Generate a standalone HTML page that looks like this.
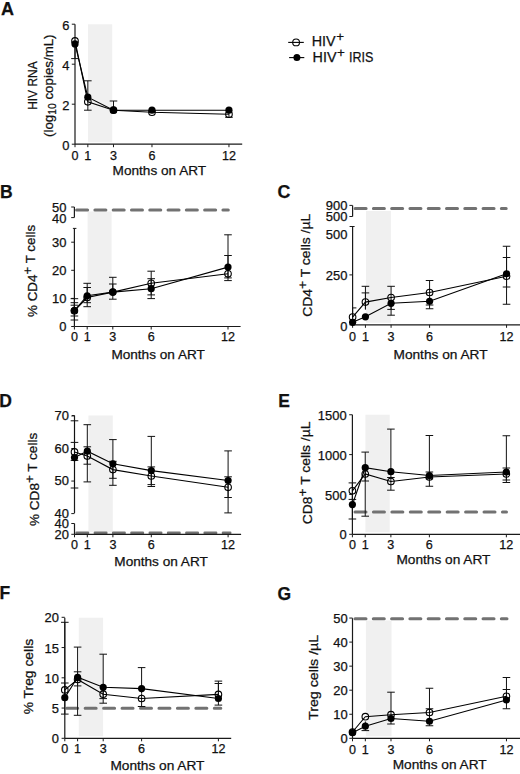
<!DOCTYPE html>
<html><head><meta charset="utf-8"><title>Figure</title>
<style>html,body{margin:0;padding:0;background:#fff;width:520px;height:774px;overflow:hidden}svg{display:block;font-family:"Liberation Sans",sans-serif}text{stroke:#111;stroke-width:0.25px}</style>
</head><body>
<svg width="520" height="774" viewBox="0 0 520 774" font-family='"Liberation Sans", sans-serif' fill="#111">
<rect width="520" height="774" fill="#fff"/>
<rect x="88.00" y="24.30" width="24.20" height="117.90" fill="#f0f0f0"/>
<line x1="75.00" y1="24.30" x2="75.00" y2="144.20" stroke="#1a1a1a" stroke-width="1.2" />
<line x1="71.80" y1="144.20" x2="75.00" y2="144.20" stroke="#1a1a1a" stroke-width="1.0" />
<text x="69.40" y="150.20" font-size="12" text-anchor="end" font-weight="normal" textLength="7.2" lengthAdjust="spacingAndGlyphs" >0</text>
<line x1="71.80" y1="104.20" x2="75.00" y2="104.20" stroke="#1a1a1a" stroke-width="1.0" />
<text x="69.40" y="110.20" font-size="12" text-anchor="end" font-weight="normal" textLength="7.2" lengthAdjust="spacingAndGlyphs" >2</text>
<line x1="71.80" y1="64.20" x2="75.00" y2="64.20" stroke="#1a1a1a" stroke-width="1.0" />
<text x="69.40" y="70.20" font-size="12" text-anchor="end" font-weight="normal" textLength="7.2" lengthAdjust="spacingAndGlyphs" >4</text>
<line x1="71.80" y1="24.20" x2="75.00" y2="24.20" stroke="#1a1a1a" stroke-width="1.0" />
<text x="69.40" y="30.20" font-size="12" text-anchor="end" font-weight="normal" textLength="7.2" lengthAdjust="spacingAndGlyphs" >6</text>
<line x1="75.00" y1="144.20" x2="242.20" y2="144.20" stroke="#1a1a1a" stroke-width="1.2" />
<line x1="75.00" y1="144.20" x2="75.00" y2="147.20" stroke="#1a1a1a" stroke-width="1.0" />
<text x="75.00" y="159.60" font-size="12" text-anchor="middle" font-weight="normal" textLength="7.0" lengthAdjust="spacingAndGlyphs" >0</text>
<line x1="87.83" y1="144.20" x2="87.83" y2="147.20" stroke="#1a1a1a" stroke-width="1.0" />
<text x="87.83" y="159.60" font-size="12" text-anchor="middle" font-weight="normal" textLength="7.0" lengthAdjust="spacingAndGlyphs" >1</text>
<line x1="113.49" y1="144.20" x2="113.49" y2="147.20" stroke="#1a1a1a" stroke-width="1.0" />
<text x="113.49" y="159.60" font-size="12" text-anchor="middle" font-weight="normal" textLength="7.0" lengthAdjust="spacingAndGlyphs" >3</text>
<line x1="151.98" y1="144.20" x2="151.98" y2="147.20" stroke="#1a1a1a" stroke-width="1.0" />
<text x="151.98" y="159.60" font-size="12" text-anchor="middle" font-weight="normal" textLength="7.0" lengthAdjust="spacingAndGlyphs" >6</text>
<line x1="228.96" y1="144.20" x2="228.96" y2="147.20" stroke="#1a1a1a" stroke-width="1.0" />
<text x="228.96" y="159.60" font-size="12" text-anchor="middle" font-weight="normal" textLength="14.0" lengthAdjust="spacingAndGlyphs" >12</text>
<text x="112.60" y="175.30" font-size="13" text-anchor="start" font-weight="normal" textLength="93.5" lengthAdjust="spacingAndGlyphs" >Months on ART</text>
<line x1="75.00" y1="42.40" x2="75.00" y2="58.60" stroke="#111" stroke-width="1.0" />
<line x1="71.20" y1="58.60" x2="78.80" y2="58.60" stroke="#111" stroke-width="1.0" />
<line x1="87.83" y1="99.50" x2="87.83" y2="80.80" stroke="#111" stroke-width="1.0" />
<line x1="84.03" y1="80.80" x2="91.63" y2="80.80" stroke="#111" stroke-width="1.0" />
<line x1="87.83" y1="99.50" x2="87.83" y2="110.20" stroke="#111" stroke-width="1.0" />
<line x1="84.03" y1="110.20" x2="91.63" y2="110.20" stroke="#111" stroke-width="1.0" />
<line x1="113.49" y1="110.20" x2="113.49" y2="101.00" stroke="#111" stroke-width="1.0" />
<line x1="109.69" y1="101.00" x2="117.29" y2="101.00" stroke="#111" stroke-width="1.0" />
<line x1="228.96" y1="112.20" x2="228.96" y2="117.30" stroke="#111" stroke-width="1.0" />
<line x1="225.16" y1="117.30" x2="232.76" y2="117.30" stroke="#111" stroke-width="1.0" />
<polyline points="75.00,40.90 87.83,101.80 113.49,110.20 151.98,112.20 228.96,114.20" fill="none" stroke="#000" stroke-width="1.1"/>
<polyline points="75.00,43.90 87.83,97.20 113.49,110.20 151.98,110.20 228.96,110.20" fill="none" stroke="#000" stroke-width="1.1"/>
<circle cx="75.00" cy="40.90" r="3.3" fill="none" stroke="#000" stroke-width="1.1"/>
<circle cx="87.83" cy="101.80" r="3.3" fill="none" stroke="#000" stroke-width="1.1"/>
<circle cx="113.49" cy="110.20" r="3.3" fill="none" stroke="#000" stroke-width="1.1"/>
<circle cx="151.98" cy="112.20" r="3.3" fill="none" stroke="#000" stroke-width="1.1"/>
<circle cx="228.96" cy="114.20" r="3.3" fill="none" stroke="#000" stroke-width="1.1"/>
<circle cx="75.00" cy="43.90" r="3.6" fill="#000"/>
<circle cx="87.83" cy="97.20" r="3.6" fill="#000"/>
<circle cx="113.49" cy="110.20" r="3.6" fill="#000"/>
<circle cx="151.98" cy="110.20" r="3.6" fill="#000"/>
<circle cx="228.96" cy="110.20" r="3.6" fill="#000"/>
<text transform="translate(36.50,85.60) rotate(-90)" x="0" y="0" font-size="13.5" text-anchor="middle" textLength="48.5" lengthAdjust="spacingAndGlyphs">HIV RNA</text>
<text transform="translate(53.3,85.7) rotate(-90)" font-size="13.5" text-anchor="middle" textLength="102.5" lengthAdjust="spacingAndGlyphs">(log<tspan font-size="10.5" dy="2.6">10</tspan><tspan dy="-2.6"> copies/mL)</tspan></text>
<text x="1.00" y="14.60" font-size="18" text-anchor="start" font-weight="bold" >A</text>
<line x1="288.20" y1="42.40" x2="303.80" y2="42.40" stroke="#000" stroke-width="1.1" />
<circle cx="296.1" cy="42.4" r="3.4" fill="none" stroke="#000" stroke-width="1.1"/>
<line x1="289.10" y1="57.60" x2="304.30" y2="57.60" stroke="#000" stroke-width="1.1" />
<circle cx="296.9" cy="57.6" r="3.5" fill="#000"/>
<text x="311.7" y="45.8" font-size="14.7" textLength="23.9" lengthAdjust="spacingAndGlyphs">HIV</text>
<text x="336.3" y="40.95" font-size="13.4">+</text>
<text x="312.6" y="61.9" font-size="14.7" textLength="23.9" lengthAdjust="spacingAndGlyphs">HIV</text>
<text x="337.1" y="57.25" font-size="13.4">+</text>
<text x="349.0" y="61.9" font-size="14.7" textLength="24.4" lengthAdjust="spacingAndGlyphs">IRIS</text>
<rect x="87.60" y="211.50" width="24.00" height="113.00" fill="#f0f0f0"/>
<line x1="74.40" y1="207.00" x2="74.40" y2="217.60" stroke="#1a1a1a" stroke-width="1.2" />
<line x1="74.40" y1="228.40" x2="74.40" y2="326.50" stroke="#1a1a1a" stroke-width="1.2" />
<line x1="72.90" y1="228.40" x2="76.40" y2="228.40" stroke="#1a1a1a" stroke-width="1.0" />
<line x1="71.20" y1="207.00" x2="74.40" y2="207.00" stroke="#1a1a1a" stroke-width="1.0" />
<text x="66.40" y="212.10" font-size="12" text-anchor="end" font-weight="normal" textLength="14.4" lengthAdjust="spacingAndGlyphs" >50</text>
<line x1="71.20" y1="217.60" x2="74.40" y2="217.60" stroke="#1a1a1a" stroke-width="1.0" />
<text x="66.40" y="222.70" font-size="12" text-anchor="end" font-weight="normal" textLength="14.4" lengthAdjust="spacingAndGlyphs" >40</text>
<line x1="71.20" y1="326.50" x2="74.40" y2="326.50" stroke="#1a1a1a" stroke-width="1.0" />
<text x="66.40" y="330.80" font-size="12" text-anchor="end" font-weight="normal" textLength="7.2" lengthAdjust="spacingAndGlyphs" >0</text>
<line x1="71.20" y1="298.40" x2="74.40" y2="298.40" stroke="#1a1a1a" stroke-width="1.0" />
<text x="66.40" y="302.70" font-size="12" text-anchor="end" font-weight="normal" textLength="14.4" lengthAdjust="spacingAndGlyphs" >10</text>
<line x1="71.20" y1="270.30" x2="74.40" y2="270.30" stroke="#1a1a1a" stroke-width="1.0" />
<text x="66.40" y="274.60" font-size="12" text-anchor="end" font-weight="normal" textLength="14.4" lengthAdjust="spacingAndGlyphs" >20</text>
<line x1="71.20" y1="242.20" x2="74.40" y2="242.20" stroke="#1a1a1a" stroke-width="1.0" />
<text x="66.40" y="246.50" font-size="12" text-anchor="end" font-weight="normal" textLength="14.4" lengthAdjust="spacingAndGlyphs" >30</text>
<path d="M76.60 209.90H87.60M94.89 209.90H105.89M113.18 209.90H124.18M131.47 209.90H142.47M149.76 209.90H160.76M168.05 209.90H179.05M186.34 209.90H197.34M204.63 209.90H215.63M222.92 209.90H228.30" stroke="#727272" stroke-width="3.0" stroke-linecap="round" fill="none"/>
<line x1="74.40" y1="326.50" x2="240.60" y2="326.50" stroke="#1a1a1a" stroke-width="1.2" />
<line x1="74.40" y1="326.50" x2="74.40" y2="329.50" stroke="#1a1a1a" stroke-width="1.0" />
<text x="74.40" y="341.10" font-size="12" text-anchor="middle" font-weight="normal" textLength="7.0" lengthAdjust="spacingAndGlyphs" >0</text>
<line x1="87.20" y1="326.50" x2="87.20" y2="329.50" stroke="#1a1a1a" stroke-width="1.0" />
<text x="87.20" y="341.10" font-size="12" text-anchor="middle" font-weight="normal" textLength="7.0" lengthAdjust="spacingAndGlyphs" >1</text>
<line x1="112.80" y1="326.50" x2="112.80" y2="329.50" stroke="#1a1a1a" stroke-width="1.0" />
<text x="112.80" y="341.10" font-size="12" text-anchor="middle" font-weight="normal" textLength="7.0" lengthAdjust="spacingAndGlyphs" >3</text>
<line x1="151.20" y1="326.50" x2="151.20" y2="329.50" stroke="#1a1a1a" stroke-width="1.0" />
<text x="151.20" y="341.10" font-size="12" text-anchor="middle" font-weight="normal" textLength="7.0" lengthAdjust="spacingAndGlyphs" >6</text>
<line x1="228.00" y1="326.50" x2="228.00" y2="329.50" stroke="#1a1a1a" stroke-width="1.0" />
<text x="228.00" y="341.10" font-size="12" text-anchor="middle" font-weight="normal" textLength="14.0" lengthAdjust="spacingAndGlyphs" >12</text>
<text x="111.40" y="359.00" font-size="13" text-anchor="start" font-weight="normal" textLength="93.5" lengthAdjust="spacingAndGlyphs" >Months on ART</text>
<line x1="74.40" y1="310.65" x2="74.40" y2="298.70" stroke="#111" stroke-width="1.0" />
<line x1="70.60" y1="298.70" x2="78.20" y2="298.70" stroke="#111" stroke-width="1.0" />
<line x1="74.40" y1="310.65" x2="74.40" y2="302.70" stroke="#111" stroke-width="1.0" />
<line x1="70.60" y1="302.70" x2="78.20" y2="302.70" stroke="#111" stroke-width="1.0" />
<line x1="74.40" y1="310.65" x2="74.40" y2="305.20" stroke="#111" stroke-width="1.0" />
<line x1="70.60" y1="305.20" x2="78.20" y2="305.20" stroke="#111" stroke-width="1.0" />
<line x1="74.40" y1="310.65" x2="74.40" y2="316.00" stroke="#111" stroke-width="1.0" />
<line x1="70.60" y1="316.00" x2="78.20" y2="316.00" stroke="#111" stroke-width="1.0" />
<line x1="74.40" y1="310.65" x2="74.40" y2="320.00" stroke="#111" stroke-width="1.0" />
<line x1="70.60" y1="320.00" x2="78.20" y2="320.00" stroke="#111" stroke-width="1.0" />
<line x1="87.20" y1="296.65" x2="87.20" y2="283.30" stroke="#111" stroke-width="1.0" />
<line x1="83.40" y1="283.30" x2="91.00" y2="283.30" stroke="#111" stroke-width="1.0" />
<line x1="87.20" y1="296.65" x2="87.20" y2="287.50" stroke="#111" stroke-width="1.0" />
<line x1="83.40" y1="287.50" x2="91.00" y2="287.50" stroke="#111" stroke-width="1.0" />
<line x1="87.20" y1="296.65" x2="87.20" y2="302.70" stroke="#111" stroke-width="1.0" />
<line x1="83.40" y1="302.70" x2="91.00" y2="302.70" stroke="#111" stroke-width="1.0" />
<line x1="87.20" y1="296.65" x2="87.20" y2="306.70" stroke="#111" stroke-width="1.0" />
<line x1="83.40" y1="306.70" x2="91.00" y2="306.70" stroke="#111" stroke-width="1.0" />
<line x1="112.80" y1="292.10" x2="112.80" y2="277.30" stroke="#111" stroke-width="1.0" />
<line x1="109.00" y1="277.30" x2="116.60" y2="277.30" stroke="#111" stroke-width="1.0" />
<line x1="112.80" y1="292.10" x2="112.80" y2="284.00" stroke="#111" stroke-width="1.0" />
<line x1="109.00" y1="284.00" x2="116.60" y2="284.00" stroke="#111" stroke-width="1.0" />
<line x1="112.80" y1="292.10" x2="112.80" y2="299.20" stroke="#111" stroke-width="1.0" />
<line x1="109.00" y1="299.20" x2="116.60" y2="299.20" stroke="#111" stroke-width="1.0" />
<line x1="151.20" y1="286.00" x2="151.20" y2="271.20" stroke="#111" stroke-width="1.0" />
<line x1="147.40" y1="271.20" x2="155.00" y2="271.20" stroke="#111" stroke-width="1.0" />
<line x1="151.20" y1="286.00" x2="151.20" y2="278.70" stroke="#111" stroke-width="1.0" />
<line x1="147.40" y1="278.70" x2="155.00" y2="278.70" stroke="#111" stroke-width="1.0" />
<line x1="151.20" y1="286.00" x2="151.20" y2="294.90" stroke="#111" stroke-width="1.0" />
<line x1="147.40" y1="294.90" x2="155.00" y2="294.90" stroke="#111" stroke-width="1.0" />
<line x1="151.20" y1="286.00" x2="151.20" y2="298.60" stroke="#111" stroke-width="1.0" />
<line x1="147.40" y1="298.60" x2="155.00" y2="298.60" stroke="#111" stroke-width="1.0" />
<line x1="228.00" y1="270.45" x2="228.00" y2="234.80" stroke="#111" stroke-width="1.0" />
<line x1="224.20" y1="234.80" x2="231.80" y2="234.80" stroke="#111" stroke-width="1.0" />
<line x1="228.00" y1="270.45" x2="228.00" y2="255.50" stroke="#111" stroke-width="1.0" />
<line x1="224.20" y1="255.50" x2="231.80" y2="255.50" stroke="#111" stroke-width="1.0" />
<line x1="228.00" y1="270.45" x2="228.00" y2="277.90" stroke="#111" stroke-width="1.0" />
<line x1="224.20" y1="277.90" x2="231.80" y2="277.90" stroke="#111" stroke-width="1.0" />
<line x1="228.00" y1="270.45" x2="228.00" y2="280.60" stroke="#111" stroke-width="1.0" />
<line x1="224.20" y1="280.60" x2="231.80" y2="280.60" stroke="#111" stroke-width="1.0" />
<polyline points="74.40,310.80 87.20,297.50 112.80,292.10 151.20,283.30 228.00,273.80" fill="none" stroke="#000" stroke-width="1.1"/>
<polyline points="74.40,310.50 87.20,295.80 112.80,292.10 151.20,288.70 228.00,267.10" fill="none" stroke="#000" stroke-width="1.1"/>
<circle cx="74.40" cy="310.80" r="3.3" fill="none" stroke="#000" stroke-width="1.1"/>
<circle cx="87.20" cy="297.50" r="3.3" fill="none" stroke="#000" stroke-width="1.1"/>
<circle cx="112.80" cy="292.10" r="3.3" fill="none" stroke="#000" stroke-width="1.1"/>
<circle cx="151.20" cy="283.30" r="3.3" fill="none" stroke="#000" stroke-width="1.1"/>
<circle cx="228.00" cy="273.80" r="3.3" fill="none" stroke="#000" stroke-width="1.1"/>
<circle cx="74.40" cy="310.50" r="3.6" fill="#000"/>
<circle cx="87.20" cy="295.80" r="3.6" fill="#000"/>
<circle cx="112.80" cy="292.10" r="3.6" fill="#000"/>
<circle cx="151.20" cy="288.70" r="3.6" fill="#000"/>
<circle cx="228.00" cy="267.10" r="3.6" fill="#000"/>
<text transform="translate(37.10,270.90) rotate(-90)" font-size="13.5" text-anchor="middle" textLength="92" lengthAdjust="spacingAndGlyphs">% CD4<tspan font-size="13.4" dy="-5.0">+</tspan><tspan dy="2.70"> T cells</tspan></text>
<text x="0.10" y="198.20" font-size="17.5" text-anchor="start" font-weight="bold" >B</text>
<rect x="366.00" y="211.00" width="24.90" height="111.80" fill="#f0f0f0"/>
<line x1="352.60" y1="205.40" x2="352.60" y2="216.50" stroke="#1a1a1a" stroke-width="1.2" />
<line x1="352.60" y1="226.50" x2="352.60" y2="324.80" stroke="#1a1a1a" stroke-width="1.2" />
<line x1="349.60" y1="226.50" x2="354.60" y2="226.50" stroke="#1a1a1a" stroke-width="1.0" />
<line x1="349.40" y1="205.40" x2="352.60" y2="205.40" stroke="#1a1a1a" stroke-width="1.0" />
<text x="347.40" y="209.50" font-size="12" text-anchor="end" font-weight="normal" textLength="21.6" lengthAdjust="spacingAndGlyphs" >900</text>
<line x1="349.40" y1="216.50" x2="352.60" y2="216.50" stroke="#1a1a1a" stroke-width="1.0" />
<text x="347.40" y="220.80" font-size="12" text-anchor="end" font-weight="normal" textLength="21.6" lengthAdjust="spacingAndGlyphs" >500</text>
<text x="347.40" y="239.00" font-size="12" text-anchor="end" font-weight="normal" textLength="21.6" lengthAdjust="spacingAndGlyphs" >500</text>
<line x1="349.40" y1="274.90" x2="352.60" y2="274.90" stroke="#1a1a1a" stroke-width="1.0" />
<text x="347.40" y="280.00" font-size="12" text-anchor="end" font-weight="normal" textLength="21.6" lengthAdjust="spacingAndGlyphs" >250</text>
<line x1="349.40" y1="324.80" x2="352.60" y2="324.80" stroke="#1a1a1a" stroke-width="1.0" />
<text x="347.40" y="331.10" font-size="12" text-anchor="end" font-weight="normal" textLength="7.2" lengthAdjust="spacingAndGlyphs" >0</text>
<path d="M355.10 208.50H366.10M373.38 208.50H384.38M391.66 208.50H402.66M409.94 208.50H420.94M428.22 208.50H439.22M446.50 208.50H457.50M464.78 208.50H475.78M483.06 208.50H494.06M501.34 208.50H506.20" stroke="#727272" stroke-width="3.0" stroke-linecap="round" fill="none"/>
<line x1="352.60" y1="324.80" x2="520.00" y2="324.80" stroke="#1a1a1a" stroke-width="1.2" />
<line x1="352.60" y1="324.80" x2="352.60" y2="327.80" stroke="#1a1a1a" stroke-width="1.0" />
<text x="352.60" y="340.60" font-size="12" text-anchor="middle" font-weight="normal" textLength="7.0" lengthAdjust="spacingAndGlyphs" >0</text>
<line x1="365.43" y1="324.80" x2="365.43" y2="327.80" stroke="#1a1a1a" stroke-width="1.0" />
<text x="365.43" y="340.60" font-size="12" text-anchor="middle" font-weight="normal" textLength="7.0" lengthAdjust="spacingAndGlyphs" >1</text>
<line x1="391.09" y1="324.80" x2="391.09" y2="327.80" stroke="#1a1a1a" stroke-width="1.0" />
<text x="391.09" y="340.60" font-size="12" text-anchor="middle" font-weight="normal" textLength="7.0" lengthAdjust="spacingAndGlyphs" >3</text>
<line x1="429.58" y1="324.80" x2="429.58" y2="327.80" stroke="#1a1a1a" stroke-width="1.0" />
<text x="429.58" y="340.60" font-size="12" text-anchor="middle" font-weight="normal" textLength="7.0" lengthAdjust="spacingAndGlyphs" >6</text>
<line x1="506.56" y1="324.80" x2="506.56" y2="327.80" stroke="#1a1a1a" stroke-width="1.0" />
<text x="506.56" y="340.60" font-size="12" text-anchor="middle" font-weight="normal" textLength="14.0" lengthAdjust="spacingAndGlyphs" >12</text>
<text x="393.50" y="358.50" font-size="13" text-anchor="start" font-weight="normal" textLength="94" lengthAdjust="spacingAndGlyphs" >Months on ART</text>
<line x1="365.43" y1="309.45" x2="365.43" y2="286.30" stroke="#111" stroke-width="1.0" />
<line x1="361.63" y1="286.30" x2="369.23" y2="286.30" stroke="#111" stroke-width="1.0" />
<line x1="365.43" y1="309.45" x2="365.43" y2="292.90" stroke="#111" stroke-width="1.0" />
<line x1="361.63" y1="292.90" x2="369.23" y2="292.90" stroke="#111" stroke-width="1.0" />
<line x1="391.09" y1="300.40" x2="391.09" y2="286.30" stroke="#111" stroke-width="1.0" />
<line x1="387.29" y1="286.30" x2="394.89" y2="286.30" stroke="#111" stroke-width="1.0" />
<line x1="391.09" y1="300.40" x2="391.09" y2="309.40" stroke="#111" stroke-width="1.0" />
<line x1="387.29" y1="309.40" x2="394.89" y2="309.40" stroke="#111" stroke-width="1.0" />
<line x1="391.09" y1="300.40" x2="391.09" y2="315.20" stroke="#111" stroke-width="1.0" />
<line x1="387.29" y1="315.20" x2="394.89" y2="315.20" stroke="#111" stroke-width="1.0" />
<line x1="429.58" y1="296.88" x2="429.58" y2="280.50" stroke="#111" stroke-width="1.0" />
<line x1="425.78" y1="280.50" x2="433.38" y2="280.50" stroke="#111" stroke-width="1.0" />
<line x1="429.58" y1="296.88" x2="429.58" y2="305.00" stroke="#111" stroke-width="1.0" />
<line x1="425.78" y1="305.00" x2="433.38" y2="305.00" stroke="#111" stroke-width="1.0" />
<line x1="429.58" y1="296.88" x2="429.58" y2="308.75" stroke="#111" stroke-width="1.0" />
<line x1="425.78" y1="308.75" x2="433.38" y2="308.75" stroke="#111" stroke-width="1.0" />
<line x1="506.56" y1="275.00" x2="506.56" y2="246.25" stroke="#111" stroke-width="1.0" />
<line x1="502.76" y1="246.25" x2="510.36" y2="246.25" stroke="#111" stroke-width="1.0" />
<line x1="506.56" y1="275.00" x2="506.56" y2="257.50" stroke="#111" stroke-width="1.0" />
<line x1="502.76" y1="257.50" x2="510.36" y2="257.50" stroke="#111" stroke-width="1.0" />
<line x1="506.56" y1="275.00" x2="506.56" y2="287.00" stroke="#111" stroke-width="1.0" />
<line x1="502.76" y1="287.00" x2="510.36" y2="287.00" stroke="#111" stroke-width="1.0" />
<line x1="506.56" y1="275.00" x2="506.56" y2="304.25" stroke="#111" stroke-width="1.0" />
<line x1="502.76" y1="304.25" x2="510.36" y2="304.25" stroke="#111" stroke-width="1.0" />
<line x1="352.60" y1="317.10" x2="352.60" y2="307.90" stroke="#111" stroke-width="1.0" />
<line x1="352.60" y1="307.90" x2="356.40" y2="307.90" stroke="#111" stroke-width="1.0" />
<polyline points="352.60,317.10 365.43,302.10 391.09,297.50 429.58,292.50 506.56,276.25" fill="none" stroke="#000" stroke-width="1.1"/>
<polyline points="352.60,322.30 365.43,316.80 391.09,303.30 429.58,301.25 506.56,273.75" fill="none" stroke="#000" stroke-width="1.1"/>
<circle cx="352.60" cy="317.10" r="3.3" fill="none" stroke="#000" stroke-width="1.1"/>
<circle cx="365.43" cy="302.10" r="3.3" fill="none" stroke="#000" stroke-width="1.1"/>
<circle cx="391.09" cy="297.50" r="3.3" fill="none" stroke="#000" stroke-width="1.1"/>
<circle cx="429.58" cy="292.50" r="3.3" fill="none" stroke="#000" stroke-width="1.1"/>
<circle cx="506.56" cy="276.25" r="3.3" fill="none" stroke="#000" stroke-width="1.1"/>
<circle cx="352.60" cy="322.30" r="3.6" fill="#000"/>
<circle cx="365.43" cy="316.80" r="3.6" fill="#000"/>
<circle cx="391.09" cy="303.30" r="3.6" fill="#000"/>
<circle cx="429.58" cy="301.25" r="3.6" fill="#000"/>
<circle cx="506.56" cy="273.75" r="3.6" fill="#000"/>
<text transform="translate(312.20,265.30) rotate(-90)" font-size="13.5" text-anchor="middle" textLength="103" lengthAdjust="spacingAndGlyphs">CD4<tspan font-size="13.4" dy="-5.0">+</tspan><tspan dy="2.70"> T cells /µL</tspan></text>
<text x="277.60" y="198.00" font-size="17.8" text-anchor="start" font-weight="bold" >C</text>
<rect x="88.40" y="415.50" width="24.40" height="116.80" fill="#f0f0f0"/>
<line x1="74.50" y1="415.50" x2="74.50" y2="513.10" stroke="#1a1a1a" stroke-width="1.2" />
<line x1="74.50" y1="523.50" x2="74.50" y2="534.30" stroke="#1a1a1a" stroke-width="1.2" />
<line x1="72.00" y1="415.50" x2="74.50" y2="415.50" stroke="#1a1a1a" stroke-width="1.0" />
<line x1="71.30" y1="415.95" x2="74.50" y2="415.95" stroke="#1a1a1a" stroke-width="1.0" />
<text x="68.90" y="420.25" font-size="12" text-anchor="end" font-weight="normal" textLength="14.4" lengthAdjust="spacingAndGlyphs" >70</text>
<line x1="71.30" y1="448.50" x2="74.50" y2="448.50" stroke="#1a1a1a" stroke-width="1.0" />
<text x="68.90" y="452.80" font-size="12" text-anchor="end" font-weight="normal" textLength="14.4" lengthAdjust="spacingAndGlyphs" >60</text>
<line x1="71.30" y1="481.05" x2="74.50" y2="481.05" stroke="#1a1a1a" stroke-width="1.0" />
<text x="68.90" y="485.35" font-size="12" text-anchor="end" font-weight="normal" textLength="14.4" lengthAdjust="spacingAndGlyphs" >50</text>
<line x1="71.30" y1="513.60" x2="74.50" y2="513.60" stroke="#1a1a1a" stroke-width="1.0" />
<text x="68.90" y="517.90" font-size="12" text-anchor="end" font-weight="normal" textLength="14.4" lengthAdjust="spacingAndGlyphs" >40</text>
<line x1="71.30" y1="523.50" x2="74.50" y2="523.50" stroke="#1a1a1a" stroke-width="1.0" />
<text x="68.90" y="527.90" font-size="12" text-anchor="end" font-weight="normal" textLength="14.4" lengthAdjust="spacingAndGlyphs" >40</text>
<line x1="71.30" y1="534.30" x2="74.50" y2="534.30" stroke="#1a1a1a" stroke-width="1.0" />
<text x="68.90" y="539.40" font-size="12" text-anchor="end" font-weight="normal" textLength="14.4" lengthAdjust="spacingAndGlyphs" >20</text>
<path d="M76.60 532.90H88.00M94.90 532.90H106.30M113.20 532.90H124.60M131.50 532.90H142.90M149.80 532.90H161.20M168.10 532.90H179.50M186.40 532.90H197.80M204.70 532.90H216.10M223.00 532.90H230.20" stroke="#727272" stroke-width="2.6" stroke-linecap="round" fill="none"/>
<line x1="74.50" y1="534.30" x2="241.10" y2="534.30" stroke="#1a1a1a" stroke-width="1.2" />
<line x1="74.50" y1="534.30" x2="74.50" y2="537.30" stroke="#1a1a1a" stroke-width="1.0" />
<text x="74.50" y="549.20" font-size="12" text-anchor="middle" font-weight="normal" textLength="7.0" lengthAdjust="spacingAndGlyphs" >0</text>
<line x1="87.30" y1="534.30" x2="87.30" y2="537.30" stroke="#1a1a1a" stroke-width="1.0" />
<text x="87.30" y="549.20" font-size="12" text-anchor="middle" font-weight="normal" textLength="7.0" lengthAdjust="spacingAndGlyphs" >1</text>
<line x1="112.90" y1="534.30" x2="112.90" y2="537.30" stroke="#1a1a1a" stroke-width="1.0" />
<text x="112.90" y="549.20" font-size="12" text-anchor="middle" font-weight="normal" textLength="7.0" lengthAdjust="spacingAndGlyphs" >3</text>
<line x1="151.30" y1="534.30" x2="151.30" y2="537.30" stroke="#1a1a1a" stroke-width="1.0" />
<text x="151.30" y="549.20" font-size="12" text-anchor="middle" font-weight="normal" textLength="7.0" lengthAdjust="spacingAndGlyphs" >6</text>
<line x1="228.10" y1="534.30" x2="228.10" y2="537.30" stroke="#1a1a1a" stroke-width="1.0" />
<text x="228.10" y="549.20" font-size="12" text-anchor="middle" font-weight="normal" textLength="14.0" lengthAdjust="spacingAndGlyphs" >12</text>
<text x="114.30" y="566.00" font-size="13" text-anchor="start" font-weight="normal" textLength="93.5" lengthAdjust="spacingAndGlyphs" >Months on ART</text>
<line x1="74.50" y1="454.75" x2="74.50" y2="420.80" stroke="#111" stroke-width="1.0" />
<line x1="70.70" y1="420.80" x2="78.30" y2="420.80" stroke="#111" stroke-width="1.0" />
<line x1="74.50" y1="454.75" x2="74.50" y2="442.40" stroke="#111" stroke-width="1.0" />
<line x1="70.70" y1="442.40" x2="78.30" y2="442.40" stroke="#111" stroke-width="1.0" />
<line x1="74.50" y1="454.75" x2="74.50" y2="460.40" stroke="#111" stroke-width="1.0" />
<line x1="70.70" y1="460.40" x2="78.30" y2="460.40" stroke="#111" stroke-width="1.0" />
<line x1="74.50" y1="454.75" x2="74.50" y2="488.00" stroke="#111" stroke-width="1.0" />
<line x1="70.70" y1="488.00" x2="78.30" y2="488.00" stroke="#111" stroke-width="1.0" />
<line x1="87.30" y1="453.65" x2="87.30" y2="424.70" stroke="#111" stroke-width="1.0" />
<line x1="83.50" y1="424.70" x2="91.10" y2="424.70" stroke="#111" stroke-width="1.0" />
<line x1="87.30" y1="453.65" x2="87.30" y2="446.80" stroke="#111" stroke-width="1.0" />
<line x1="83.50" y1="446.80" x2="91.10" y2="446.80" stroke="#111" stroke-width="1.0" />
<line x1="87.30" y1="453.65" x2="87.30" y2="464.20" stroke="#111" stroke-width="1.0" />
<line x1="83.50" y1="464.20" x2="91.10" y2="464.20" stroke="#111" stroke-width="1.0" />
<line x1="87.30" y1="453.65" x2="87.30" y2="481.90" stroke="#111" stroke-width="1.0" />
<line x1="83.50" y1="481.90" x2="91.10" y2="481.90" stroke="#111" stroke-width="1.0" />
<line x1="112.90" y1="466.70" x2="112.90" y2="439.60" stroke="#111" stroke-width="1.0" />
<line x1="109.10" y1="439.60" x2="116.70" y2="439.60" stroke="#111" stroke-width="1.0" />
<line x1="112.90" y1="466.70" x2="112.90" y2="461.30" stroke="#111" stroke-width="1.0" />
<line x1="109.10" y1="461.30" x2="116.70" y2="461.30" stroke="#111" stroke-width="1.0" />
<line x1="112.90" y1="466.70" x2="112.90" y2="478.30" stroke="#111" stroke-width="1.0" />
<line x1="109.10" y1="478.30" x2="116.70" y2="478.30" stroke="#111" stroke-width="1.0" />
<line x1="112.90" y1="466.70" x2="112.90" y2="485.30" stroke="#111" stroke-width="1.0" />
<line x1="109.10" y1="485.30" x2="116.70" y2="485.30" stroke="#111" stroke-width="1.0" />
<line x1="151.30" y1="473.30" x2="151.30" y2="436.40" stroke="#111" stroke-width="1.0" />
<line x1="147.50" y1="436.40" x2="155.10" y2="436.40" stroke="#111" stroke-width="1.0" />
<line x1="151.30" y1="473.30" x2="151.30" y2="466.90" stroke="#111" stroke-width="1.0" />
<line x1="147.50" y1="466.90" x2="155.10" y2="466.90" stroke="#111" stroke-width="1.0" />
<line x1="151.30" y1="473.30" x2="151.30" y2="484.60" stroke="#111" stroke-width="1.0" />
<line x1="147.50" y1="484.60" x2="155.10" y2="484.60" stroke="#111" stroke-width="1.0" />
<line x1="151.30" y1="473.30" x2="151.30" y2="486.50" stroke="#111" stroke-width="1.0" />
<line x1="147.50" y1="486.50" x2="155.10" y2="486.50" stroke="#111" stroke-width="1.0" />
<line x1="228.10" y1="483.90" x2="228.10" y2="450.90" stroke="#111" stroke-width="1.0" />
<line x1="224.30" y1="450.90" x2="231.90" y2="450.90" stroke="#111" stroke-width="1.0" />
<line x1="228.10" y1="483.90" x2="228.10" y2="476.80" stroke="#111" stroke-width="1.0" />
<line x1="224.30" y1="476.80" x2="231.90" y2="476.80" stroke="#111" stroke-width="1.0" />
<line x1="228.10" y1="483.90" x2="228.10" y2="497.50" stroke="#111" stroke-width="1.0" />
<line x1="224.30" y1="497.50" x2="231.90" y2="497.50" stroke="#111" stroke-width="1.0" />
<line x1="228.10" y1="483.90" x2="228.10" y2="512.90" stroke="#111" stroke-width="1.0" />
<line x1="224.30" y1="512.90" x2="231.90" y2="512.90" stroke="#111" stroke-width="1.0" />
<polyline points="74.50,451.90 87.30,456.10 112.90,469.60 151.30,476.00 228.10,487.30" fill="none" stroke="#000" stroke-width="1.1"/>
<polyline points="74.50,457.60 87.30,451.20 112.90,463.80 151.30,470.60 228.10,480.50" fill="none" stroke="#000" stroke-width="1.1"/>
<circle cx="74.50" cy="451.90" r="3.3" fill="none" stroke="#000" stroke-width="1.1"/>
<circle cx="87.30" cy="456.10" r="3.3" fill="none" stroke="#000" stroke-width="1.1"/>
<circle cx="112.90" cy="469.60" r="3.3" fill="none" stroke="#000" stroke-width="1.1"/>
<circle cx="151.30" cy="476.00" r="3.3" fill="none" stroke="#000" stroke-width="1.1"/>
<circle cx="228.10" cy="487.30" r="3.3" fill="none" stroke="#000" stroke-width="1.1"/>
<circle cx="74.50" cy="457.60" r="3.6" fill="#000"/>
<circle cx="87.30" cy="451.20" r="3.6" fill="#000"/>
<circle cx="112.90" cy="463.80" r="3.6" fill="#000"/>
<circle cx="151.30" cy="470.60" r="3.6" fill="#000"/>
<circle cx="228.10" cy="480.50" r="3.6" fill="#000"/>
<text transform="translate(39.40,479.40) rotate(-90)" font-size="13.5" text-anchor="middle" textLength="93.2" lengthAdjust="spacingAndGlyphs">% CD8<tspan font-size="13.4" dy="-5.0">+</tspan><tspan dy="2.70"> T cells</tspan></text>
<text x="-0.70" y="407.00" font-size="17.5" text-anchor="start" font-weight="bold" >D</text>
<rect x="365.40" y="414.70" width="24.30" height="117.60" fill="#f0f0f0"/>
<line x1="352.40" y1="414.70" x2="352.40" y2="534.30" stroke="#1a1a1a" stroke-width="1.2" />
<line x1="349.20" y1="534.30" x2="352.40" y2="534.30" stroke="#1a1a1a" stroke-width="1.0" />
<text x="346.60" y="539.40" font-size="12" text-anchor="end" font-weight="normal" textLength="7.2" lengthAdjust="spacingAndGlyphs" >0</text>
<line x1="349.20" y1="494.45" x2="352.40" y2="494.45" stroke="#1a1a1a" stroke-width="1.0" />
<text x="346.60" y="499.55" font-size="12" text-anchor="end" font-weight="normal" textLength="21.6" lengthAdjust="spacingAndGlyphs" >500</text>
<line x1="349.20" y1="454.60" x2="352.40" y2="454.60" stroke="#1a1a1a" stroke-width="1.0" />
<text x="346.60" y="459.70" font-size="12" text-anchor="end" font-weight="normal" textLength="28.8" lengthAdjust="spacingAndGlyphs" >1000</text>
<line x1="349.20" y1="414.75" x2="352.40" y2="414.75" stroke="#1a1a1a" stroke-width="1.0" />
<text x="346.60" y="419.85" font-size="12" text-anchor="end" font-weight="normal" textLength="28.8" lengthAdjust="spacingAndGlyphs" >1500</text>
<path d="M355.00 512.00H366.00M373.43 512.00H384.43M391.86 512.00H402.86M410.29 512.00H421.29M428.72 512.00H439.72M447.15 512.00H458.15M465.58 512.00H476.58M484.01 512.00H495.01M502.44 512.00H506.50" stroke="#727272" stroke-width="3.0" stroke-linecap="round" fill="none"/>
<line x1="352.40" y1="534.30" x2="520.00" y2="534.30" stroke="#1a1a1a" stroke-width="1.2" />
<line x1="352.40" y1="534.30" x2="352.40" y2="537.30" stroke="#1a1a1a" stroke-width="1.0" />
<text x="352.40" y="549.00" font-size="12" text-anchor="middle" font-weight="normal" textLength="7.0" lengthAdjust="spacingAndGlyphs" >0</text>
<line x1="365.23" y1="534.30" x2="365.23" y2="537.30" stroke="#1a1a1a" stroke-width="1.0" />
<text x="365.23" y="549.00" font-size="12" text-anchor="middle" font-weight="normal" textLength="7.0" lengthAdjust="spacingAndGlyphs" >1</text>
<line x1="390.89" y1="534.30" x2="390.89" y2="537.30" stroke="#1a1a1a" stroke-width="1.0" />
<text x="390.89" y="549.00" font-size="12" text-anchor="middle" font-weight="normal" textLength="7.0" lengthAdjust="spacingAndGlyphs" >3</text>
<line x1="429.38" y1="534.30" x2="429.38" y2="537.30" stroke="#1a1a1a" stroke-width="1.0" />
<text x="429.38" y="549.00" font-size="12" text-anchor="middle" font-weight="normal" textLength="7.0" lengthAdjust="spacingAndGlyphs" >6</text>
<line x1="506.36" y1="534.30" x2="506.36" y2="537.30" stroke="#1a1a1a" stroke-width="1.0" />
<text x="506.36" y="549.00" font-size="12" text-anchor="middle" font-weight="normal" textLength="14.0" lengthAdjust="spacingAndGlyphs" >12</text>
<text x="396.40" y="564.40" font-size="13" text-anchor="start" font-weight="normal" textLength="94" lengthAdjust="spacingAndGlyphs" >Months on ART</text>
<line x1="352.40" y1="497.70" x2="352.40" y2="482.90" stroke="#111" stroke-width="1.0" />
<line x1="348.60" y1="482.90" x2="356.20" y2="482.90" stroke="#111" stroke-width="1.0" />
<line x1="352.40" y1="497.70" x2="352.40" y2="499.40" stroke="#111" stroke-width="1.0" />
<line x1="348.60" y1="499.40" x2="356.20" y2="499.40" stroke="#111" stroke-width="1.0" />
<line x1="352.40" y1="497.70" x2="352.40" y2="519.00" stroke="#111" stroke-width="1.0" />
<line x1="348.60" y1="519.00" x2="356.20" y2="519.00" stroke="#111" stroke-width="1.0" />
<line x1="365.23" y1="470.85" x2="365.23" y2="452.10" stroke="#111" stroke-width="1.0" />
<line x1="361.43" y1="452.10" x2="369.03" y2="452.10" stroke="#111" stroke-width="1.0" />
<line x1="365.23" y1="470.85" x2="365.23" y2="481.00" stroke="#111" stroke-width="1.0" />
<line x1="361.43" y1="481.00" x2="369.03" y2="481.00" stroke="#111" stroke-width="1.0" />
<line x1="365.23" y1="470.85" x2="365.23" y2="516.20" stroke="#111" stroke-width="1.0" />
<line x1="361.43" y1="516.20" x2="369.03" y2="516.20" stroke="#111" stroke-width="1.0" />
<line x1="390.89" y1="476.60" x2="390.89" y2="429.10" stroke="#111" stroke-width="1.0" />
<line x1="387.09" y1="429.10" x2="394.69" y2="429.10" stroke="#111" stroke-width="1.0" />
<line x1="390.89" y1="476.60" x2="390.89" y2="477.50" stroke="#111" stroke-width="1.0" />
<line x1="387.09" y1="477.50" x2="394.69" y2="477.50" stroke="#111" stroke-width="1.0" />
<line x1="390.89" y1="476.60" x2="390.89" y2="490.20" stroke="#111" stroke-width="1.0" />
<line x1="387.09" y1="490.20" x2="394.69" y2="490.20" stroke="#111" stroke-width="1.0" />
<line x1="429.38" y1="476.25" x2="429.38" y2="435.50" stroke="#111" stroke-width="1.0" />
<line x1="425.58" y1="435.50" x2="433.18" y2="435.50" stroke="#111" stroke-width="1.0" />
<line x1="429.38" y1="476.25" x2="429.38" y2="472.00" stroke="#111" stroke-width="1.0" />
<line x1="425.58" y1="472.00" x2="433.18" y2="472.00" stroke="#111" stroke-width="1.0" />
<line x1="429.38" y1="476.25" x2="429.38" y2="478.75" stroke="#111" stroke-width="1.0" />
<line x1="425.58" y1="478.75" x2="433.18" y2="478.75" stroke="#111" stroke-width="1.0" />
<line x1="429.38" y1="476.25" x2="429.38" y2="486.25" stroke="#111" stroke-width="1.0" />
<line x1="425.58" y1="486.25" x2="433.18" y2="486.25" stroke="#111" stroke-width="1.0" />
<line x1="506.36" y1="473.00" x2="506.36" y2="435.75" stroke="#111" stroke-width="1.0" />
<line x1="502.56" y1="435.75" x2="510.16" y2="435.75" stroke="#111" stroke-width="1.0" />
<line x1="506.36" y1="473.00" x2="506.36" y2="468.00" stroke="#111" stroke-width="1.0" />
<line x1="502.56" y1="468.00" x2="510.16" y2="468.00" stroke="#111" stroke-width="1.0" />
<line x1="506.36" y1="473.00" x2="506.36" y2="480.00" stroke="#111" stroke-width="1.0" />
<line x1="502.56" y1="480.00" x2="510.16" y2="480.00" stroke="#111" stroke-width="1.0" />
<line x1="506.36" y1="473.00" x2="506.36" y2="482.50" stroke="#111" stroke-width="1.0" />
<line x1="502.56" y1="482.50" x2="510.16" y2="482.50" stroke="#111" stroke-width="1.0" />
<polyline points="352.40,490.80 365.23,474.00 390.89,481.50 429.38,477.00 506.36,474.00" fill="none" stroke="#000" stroke-width="1.1"/>
<polyline points="352.40,504.60 365.23,467.70 390.89,471.70 429.38,475.50 506.36,472.00" fill="none" stroke="#000" stroke-width="1.1"/>
<circle cx="352.40" cy="490.80" r="3.3" fill="none" stroke="#000" stroke-width="1.1"/>
<circle cx="365.23" cy="474.00" r="3.3" fill="none" stroke="#000" stroke-width="1.1"/>
<circle cx="390.89" cy="481.50" r="3.3" fill="none" stroke="#000" stroke-width="1.1"/>
<circle cx="429.38" cy="477.00" r="3.3" fill="none" stroke="#000" stroke-width="1.1"/>
<circle cx="506.36" cy="474.00" r="3.3" fill="none" stroke="#000" stroke-width="1.1"/>
<circle cx="352.40" cy="504.60" r="3.6" fill="#000"/>
<circle cx="365.23" cy="467.70" r="3.6" fill="#000"/>
<circle cx="390.89" cy="471.70" r="3.6" fill="#000"/>
<circle cx="429.38" cy="475.50" r="3.6" fill="#000"/>
<circle cx="506.36" cy="472.00" r="3.6" fill="#000"/>
<text transform="translate(311.80,472.90) rotate(-90)" font-size="13.5" text-anchor="middle" textLength="102.5" lengthAdjust="spacingAndGlyphs">CD8<tspan font-size="13.4" dy="-5.0">+</tspan><tspan dy="2.70"> T cells /µL</tspan></text>
<text x="278.20" y="407.40" font-size="17.5" text-anchor="start" font-weight="bold" >E</text>
<rect x="78.80" y="617.70" width="24.30" height="118.60" fill="#f0f0f0"/>
<line x1="64.80" y1="617.70" x2="64.80" y2="738.30" stroke="#1a1a1a" stroke-width="1.2" />
<line x1="61.60" y1="738.30" x2="64.80" y2="738.30" stroke="#1a1a1a" stroke-width="1.0" />
<text x="59.00" y="743.40" font-size="12" text-anchor="end" font-weight="normal" textLength="7.2" lengthAdjust="spacingAndGlyphs" >0</text>
<line x1="61.60" y1="708.05" x2="64.80" y2="708.05" stroke="#1a1a1a" stroke-width="1.0" />
<text x="59.00" y="713.15" font-size="12" text-anchor="end" font-weight="normal" textLength="7.2" lengthAdjust="spacingAndGlyphs" >5</text>
<line x1="61.60" y1="677.80" x2="64.80" y2="677.80" stroke="#1a1a1a" stroke-width="1.0" />
<text x="59.00" y="682.90" font-size="12" text-anchor="end" font-weight="normal" textLength="14.4" lengthAdjust="spacingAndGlyphs" >10</text>
<line x1="61.60" y1="647.55" x2="64.80" y2="647.55" stroke="#1a1a1a" stroke-width="1.0" />
<text x="59.00" y="652.65" font-size="12" text-anchor="end" font-weight="normal" textLength="14.4" lengthAdjust="spacingAndGlyphs" >15</text>
<line x1="61.60" y1="617.30" x2="64.80" y2="617.30" stroke="#1a1a1a" stroke-width="1.0" />
<text x="59.00" y="622.40" font-size="12" text-anchor="end" font-weight="normal" textLength="14.4" lengthAdjust="spacingAndGlyphs" >20</text>
<path d="M66.70 708.30H77.70M85.15 708.30H96.15M103.60 708.30H114.60M122.05 708.30H133.05M140.50 708.30H151.50M158.95 708.30H169.95M177.40 708.30H188.40M195.85 708.30H206.85M214.30 708.30H220.80" stroke="#727272" stroke-width="3.0" stroke-linecap="round" fill="none"/>
<line x1="64.80" y1="738.30" x2="231.20" y2="738.30" stroke="#1a1a1a" stroke-width="1.2" />
<line x1="64.80" y1="738.30" x2="64.80" y2="741.30" stroke="#1a1a1a" stroke-width="1.0" />
<text x="64.80" y="752.70" font-size="12" text-anchor="middle" font-weight="normal" textLength="7.0" lengthAdjust="spacingAndGlyphs" >0</text>
<line x1="77.60" y1="738.30" x2="77.60" y2="741.30" stroke="#1a1a1a" stroke-width="1.0" />
<text x="77.60" y="752.70" font-size="12" text-anchor="middle" font-weight="normal" textLength="7.0" lengthAdjust="spacingAndGlyphs" >1</text>
<line x1="103.20" y1="738.30" x2="103.20" y2="741.30" stroke="#1a1a1a" stroke-width="1.0" />
<text x="103.20" y="752.70" font-size="12" text-anchor="middle" font-weight="normal" textLength="7.0" lengthAdjust="spacingAndGlyphs" >3</text>
<line x1="141.60" y1="738.30" x2="141.60" y2="741.30" stroke="#1a1a1a" stroke-width="1.0" />
<text x="141.60" y="752.70" font-size="12" text-anchor="middle" font-weight="normal" textLength="7.0" lengthAdjust="spacingAndGlyphs" >6</text>
<line x1="218.40" y1="738.30" x2="218.40" y2="741.30" stroke="#1a1a1a" stroke-width="1.0" />
<text x="218.40" y="752.70" font-size="12" text-anchor="middle" font-weight="normal" textLength="14.0" lengthAdjust="spacingAndGlyphs" >12</text>
<text x="110.40" y="769.80" font-size="13" text-anchor="start" font-weight="normal" textLength="94" lengthAdjust="spacingAndGlyphs" >Months on ART</text>
<line x1="64.80" y1="693.80" x2="64.80" y2="622.30" stroke="#111" stroke-width="1.0" />
<line x1="61.00" y1="622.30" x2="68.60" y2="622.30" stroke="#111" stroke-width="1.0" />
<line x1="64.80" y1="693.80" x2="64.80" y2="683.00" stroke="#111" stroke-width="1.0" />
<line x1="61.00" y1="683.00" x2="68.60" y2="683.00" stroke="#111" stroke-width="1.0" />
<line x1="64.80" y1="693.80" x2="64.80" y2="714.10" stroke="#111" stroke-width="1.0" />
<line x1="61.00" y1="714.10" x2="68.60" y2="714.10" stroke="#111" stroke-width="1.0" />
<line x1="77.60" y1="678.40" x2="77.60" y2="647.10" stroke="#111" stroke-width="1.0" />
<line x1="73.80" y1="647.10" x2="81.40" y2="647.10" stroke="#111" stroke-width="1.0" />
<line x1="77.60" y1="678.40" x2="77.60" y2="671.80" stroke="#111" stroke-width="1.0" />
<line x1="73.80" y1="671.80" x2="81.40" y2="671.80" stroke="#111" stroke-width="1.0" />
<line x1="77.60" y1="678.40" x2="77.60" y2="685.90" stroke="#111" stroke-width="1.0" />
<line x1="73.80" y1="685.90" x2="81.40" y2="685.90" stroke="#111" stroke-width="1.0" />
<line x1="77.60" y1="678.40" x2="77.60" y2="715.30" stroke="#111" stroke-width="1.0" />
<line x1="73.80" y1="715.30" x2="81.40" y2="715.30" stroke="#111" stroke-width="1.0" />
<line x1="103.20" y1="690.75" x2="103.20" y2="654.20" stroke="#111" stroke-width="1.0" />
<line x1="99.40" y1="654.20" x2="107.00" y2="654.20" stroke="#111" stroke-width="1.0" />
<line x1="103.20" y1="690.75" x2="103.20" y2="698.60" stroke="#111" stroke-width="1.0" />
<line x1="99.40" y1="698.60" x2="107.00" y2="698.60" stroke="#111" stroke-width="1.0" />
<line x1="103.20" y1="690.75" x2="103.20" y2="703.20" stroke="#111" stroke-width="1.0" />
<line x1="99.40" y1="703.20" x2="107.00" y2="703.20" stroke="#111" stroke-width="1.0" />
<line x1="141.60" y1="693.55" x2="141.60" y2="667.60" stroke="#111" stroke-width="1.0" />
<line x1="137.80" y1="667.60" x2="145.40" y2="667.60" stroke="#111" stroke-width="1.0" />
<line x1="141.60" y1="693.55" x2="141.60" y2="706.50" stroke="#111" stroke-width="1.0" />
<line x1="137.80" y1="706.50" x2="145.40" y2="706.50" stroke="#111" stroke-width="1.0" />
<line x1="218.40" y1="696.45" x2="218.40" y2="681.10" stroke="#111" stroke-width="1.0" />
<line x1="214.60" y1="681.10" x2="222.20" y2="681.10" stroke="#111" stroke-width="1.0" />
<line x1="218.40" y1="696.45" x2="218.40" y2="683.50" stroke="#111" stroke-width="1.0" />
<line x1="214.60" y1="683.50" x2="222.20" y2="683.50" stroke="#111" stroke-width="1.0" />
<line x1="218.40" y1="696.45" x2="218.40" y2="705.10" stroke="#111" stroke-width="1.0" />
<line x1="214.60" y1="705.10" x2="222.20" y2="705.10" stroke="#111" stroke-width="1.0" />
<polyline points="64.80,689.90 77.60,679.50 103.20,694.20 141.60,698.50 218.40,694.40" fill="none" stroke="#000" stroke-width="1.1"/>
<polyline points="64.80,697.70 77.60,677.30 103.20,687.30 141.60,688.60 218.40,698.50" fill="none" stroke="#000" stroke-width="1.1"/>
<circle cx="64.80" cy="689.90" r="3.3" fill="none" stroke="#000" stroke-width="1.1"/>
<circle cx="77.60" cy="679.50" r="3.3" fill="none" stroke="#000" stroke-width="1.1"/>
<circle cx="103.20" cy="694.20" r="3.3" fill="none" stroke="#000" stroke-width="1.1"/>
<circle cx="141.60" cy="698.50" r="3.3" fill="none" stroke="#000" stroke-width="1.1"/>
<circle cx="218.40" cy="694.40" r="3.3" fill="none" stroke="#000" stroke-width="1.1"/>
<circle cx="64.80" cy="697.70" r="3.6" fill="#000"/>
<circle cx="77.60" cy="677.30" r="3.6" fill="#000"/>
<circle cx="103.20" cy="687.30" r="3.6" fill="#000"/>
<circle cx="141.60" cy="688.60" r="3.6" fill="#000"/>
<circle cx="218.40" cy="698.50" r="3.6" fill="#000"/>
<text transform="translate(33.30,676.60) rotate(-90)" x="0" y="0" font-size="13.5" text-anchor="middle" textLength="75.5" lengthAdjust="spacingAndGlyphs">% Treg cells</text>
<text x="-0.60" y="599.00" font-size="17.5" text-anchor="start" font-weight="bold" >F</text>
<rect x="365.90" y="620.50" width="25.60" height="115.80" fill="#f0f0f0"/>
<line x1="352.50" y1="618.20" x2="352.50" y2="738.30" stroke="#1a1a1a" stroke-width="1.2" />
<line x1="349.30" y1="738.30" x2="352.50" y2="738.30" stroke="#1a1a1a" stroke-width="1.0" />
<text x="347.70" y="743.40" font-size="12" text-anchor="end" font-weight="normal" textLength="7.2" lengthAdjust="spacingAndGlyphs" >0</text>
<line x1="349.30" y1="714.25" x2="352.50" y2="714.25" stroke="#1a1a1a" stroke-width="1.0" />
<text x="347.70" y="719.35" font-size="12" text-anchor="end" font-weight="normal" textLength="14.4" lengthAdjust="spacingAndGlyphs" >10</text>
<line x1="349.30" y1="690.20" x2="352.50" y2="690.20" stroke="#1a1a1a" stroke-width="1.0" />
<text x="347.70" y="695.30" font-size="12" text-anchor="end" font-weight="normal" textLength="14.4" lengthAdjust="spacingAndGlyphs" >20</text>
<line x1="349.30" y1="666.15" x2="352.50" y2="666.15" stroke="#1a1a1a" stroke-width="1.0" />
<text x="347.70" y="671.25" font-size="12" text-anchor="end" font-weight="normal" textLength="14.4" lengthAdjust="spacingAndGlyphs" >30</text>
<line x1="349.30" y1="642.10" x2="352.50" y2="642.10" stroke="#1a1a1a" stroke-width="1.0" />
<text x="347.70" y="647.20" font-size="12" text-anchor="end" font-weight="normal" textLength="14.4" lengthAdjust="spacingAndGlyphs" >40</text>
<line x1="349.30" y1="618.05" x2="352.50" y2="618.05" stroke="#1a1a1a" stroke-width="1.0" />
<text x="347.70" y="623.15" font-size="12" text-anchor="end" font-weight="normal" textLength="14.4" lengthAdjust="spacingAndGlyphs" >50</text>
<path d="M355.00 618.80H366.00M373.29 618.80H384.29M391.58 618.80H402.58M409.87 618.80H420.87M428.16 618.80H439.16M446.45 618.80H457.45M464.74 618.80H475.74M483.03 618.80H494.03M501.32 618.80H507.00" stroke="#727272" stroke-width="3.0" stroke-linecap="round" fill="none"/>
<line x1="352.50" y1="738.30" x2="520.00" y2="738.30" stroke="#1a1a1a" stroke-width="1.2" />
<line x1="352.50" y1="738.30" x2="352.50" y2="741.30" stroke="#1a1a1a" stroke-width="1.0" />
<text x="352.50" y="753.60" font-size="12" text-anchor="middle" font-weight="normal" textLength="7.0" lengthAdjust="spacingAndGlyphs" >0</text>
<line x1="365.33" y1="738.30" x2="365.33" y2="741.30" stroke="#1a1a1a" stroke-width="1.0" />
<text x="365.33" y="753.60" font-size="12" text-anchor="middle" font-weight="normal" textLength="7.0" lengthAdjust="spacingAndGlyphs" >1</text>
<line x1="390.99" y1="738.30" x2="390.99" y2="741.30" stroke="#1a1a1a" stroke-width="1.0" />
<text x="390.99" y="753.60" font-size="12" text-anchor="middle" font-weight="normal" textLength="7.0" lengthAdjust="spacingAndGlyphs" >3</text>
<line x1="429.48" y1="738.30" x2="429.48" y2="741.30" stroke="#1a1a1a" stroke-width="1.0" />
<text x="429.48" y="753.60" font-size="12" text-anchor="middle" font-weight="normal" textLength="7.0" lengthAdjust="spacingAndGlyphs" >6</text>
<line x1="506.46" y1="738.30" x2="506.46" y2="741.30" stroke="#1a1a1a" stroke-width="1.0" />
<text x="506.46" y="753.60" font-size="12" text-anchor="middle" font-weight="normal" textLength="14.0" lengthAdjust="spacingAndGlyphs" >12</text>
<text x="392.70" y="769.20" font-size="13" text-anchor="start" font-weight="normal" textLength="94" lengthAdjust="spacingAndGlyphs" >Months on ART</text>
<line x1="365.33" y1="721.45" x2="365.33" y2="730.60" stroke="#111" stroke-width="1.0" />
<line x1="361.53" y1="730.60" x2="369.13" y2="730.60" stroke="#111" stroke-width="1.0" />
<line x1="390.99" y1="716.60" x2="390.99" y2="692.20" stroke="#111" stroke-width="1.0" />
<line x1="387.19" y1="692.20" x2="394.79" y2="692.20" stroke="#111" stroke-width="1.0" />
<line x1="390.99" y1="716.60" x2="390.99" y2="724.00" stroke="#111" stroke-width="1.0" />
<line x1="387.19" y1="724.00" x2="394.79" y2="724.00" stroke="#111" stroke-width="1.0" />
<line x1="429.48" y1="716.88" x2="429.48" y2="688.25" stroke="#111" stroke-width="1.0" />
<line x1="425.68" y1="688.25" x2="433.28" y2="688.25" stroke="#111" stroke-width="1.0" />
<line x1="429.48" y1="716.88" x2="429.48" y2="708.75" stroke="#111" stroke-width="1.0" />
<line x1="425.68" y1="708.75" x2="433.28" y2="708.75" stroke="#111" stroke-width="1.0" />
<line x1="429.48" y1="716.88" x2="429.48" y2="725.75" stroke="#111" stroke-width="1.0" />
<line x1="425.68" y1="725.75" x2="433.28" y2="725.75" stroke="#111" stroke-width="1.0" />
<line x1="506.46" y1="698.12" x2="506.46" y2="677.50" stroke="#111" stroke-width="1.0" />
<line x1="502.66" y1="677.50" x2="510.26" y2="677.50" stroke="#111" stroke-width="1.0" />
<line x1="506.46" y1="698.12" x2="506.46" y2="689.50" stroke="#111" stroke-width="1.0" />
<line x1="502.66" y1="689.50" x2="510.26" y2="689.50" stroke="#111" stroke-width="1.0" />
<line x1="506.46" y1="698.12" x2="506.46" y2="708.75" stroke="#111" stroke-width="1.0" />
<line x1="502.66" y1="708.75" x2="510.26" y2="708.75" stroke="#111" stroke-width="1.0" />
<polyline points="352.50,732.00 365.33,716.70 390.99,714.70 429.48,712.50 506.46,696.25" fill="none" stroke="#000" stroke-width="1.1"/>
<polyline points="352.50,732.70 365.33,726.20 390.99,718.50 429.48,721.25 506.46,700.00" fill="none" stroke="#000" stroke-width="1.1"/>
<circle cx="352.50" cy="732.00" r="3.3" fill="none" stroke="#000" stroke-width="1.1"/>
<circle cx="365.33" cy="716.70" r="3.3" fill="none" stroke="#000" stroke-width="1.1"/>
<circle cx="390.99" cy="714.70" r="3.3" fill="none" stroke="#000" stroke-width="1.1"/>
<circle cx="429.48" cy="712.50" r="3.3" fill="none" stroke="#000" stroke-width="1.1"/>
<circle cx="506.46" cy="696.25" r="3.3" fill="none" stroke="#000" stroke-width="1.1"/>
<circle cx="352.50" cy="732.70" r="3.6" fill="#000"/>
<circle cx="365.33" cy="726.20" r="3.6" fill="#000"/>
<circle cx="390.99" cy="718.50" r="3.6" fill="#000"/>
<circle cx="429.48" cy="721.25" r="3.6" fill="#000"/>
<circle cx="506.46" cy="700.00" r="3.6" fill="#000"/>
<text transform="translate(317.80,677.40) rotate(-90)" x="0" y="0" font-size="13.5" text-anchor="middle" textLength="85.3" lengthAdjust="spacingAndGlyphs">Treg cells /µL</text>
<text x="277.50" y="600.30" font-size="17.5" text-anchor="start" font-weight="bold" >G</text>
</svg>
</body></html>
